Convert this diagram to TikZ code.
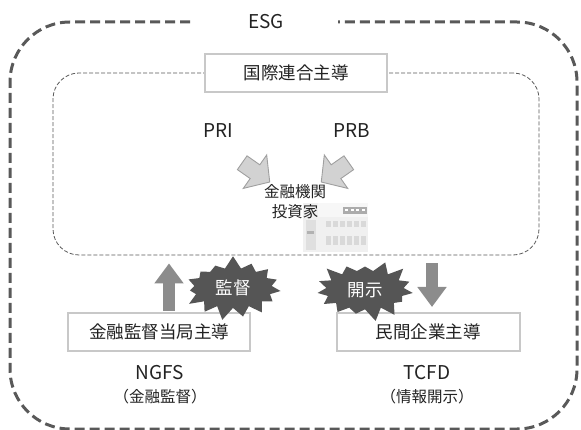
\documentclass[tikz,border=0pt]{standalone}
\usepackage{fontspec}
\setmainfont{Noto Sans CJK JP}
\usepackage{tikz}
\usepackage{xcolor}
\usetikzlibrary{shapes.symbols, arrows.meta, positioning, calc}

\definecolor{framegray}{HTML}{595959}
\definecolor{boxgray}{HTML}{C8C8C8}
\definecolor{burstgray}{HTML}{555555}
\definecolor{arrowgray}{HTML}{8C8C8C}
\definecolor{inkgray}{HTML}{222222}

\tikzset{
  leadbox/.style={draw=boxgray, line width=2pt, fill=white, minimum width=182pt, minimum height=38pt, font=\fontsize{17.5}{17.5}\selectfont, text=inkgray},
  innerframe/.style={draw=framegray, dash pattern=on 4pt off 2pt, line width=0.8pt, rounded corners=26pt},
  outerframe/.style={draw=framegray, dash pattern=on 10pt off 5pt, line width=3pt, rounded corners=60pt},
  label/.style={font=\fontsize{19}{19}\selectfont, text=inkgray},
  sublabel/.style={font=\fontsize{15.5}{15.5}\selectfont, text=inkgray},
  fatarrow/.style={draw=gray!75, fill=gray!35, line width=0.9pt, line join=miter},
  blockarrow/.style={draw=arrowgray, line width=12pt, -{Triangle[length=20pt, width=28pt]}},
  burst/.style={starburst, fill=burstgray, text=white, starburst points=15, starburst point height=13pt, font=\fontsize{17.5}{17.5}\selectfont, inner xsep=10pt, inner ysep=6pt},
}

\begin{document}
\begin{tikzpicture}[x=1pt, y=-1pt]
\useasboundingbox (0,0) rectangle (581,430);

% outer ESG frame, open at the top for the title
\node[label] (esg) at (266,22) {ESG};
\draw[outerframe] ([xshift=-76pt]esg.center) -- (10,22) -- (10,429) -- (577,429) -- (577,22) -- ([xshift=72pt]esg.center);

% international frame
\node[innerframe, minimum width=486pt, minimum height=182pt] (intl) at (296,164) {};
\node[leadbox] (unlead) at (296,73) {国際連合主導};

\node[label] (pri) at (218,131) {PRI};
\node[label] (prb) at (352,131) {PRB};
\foreach \name/\x/\ang in {priarrow/254/-35, prbarrow/337/-145}
  \draw[fatarrow, shift={(\x,171)}, rotate=\ang, scale=1.2]
    (-12,-7) -- (1,-7) -- (1,-17) -- (16,0) -- (1,17) -- (1,7) -- (-12,7) -- cycle;

% bank icon with the financial institutions
\begin{scope}
  \fill[gray!12] (303,203) rectangle (368,252);
  \fill[gray!6] (318,203) rectangle (368,217);
  \fill[gray!65] (343,207) rectangle (367,214);
  \foreach \i in {0,...,3}
    \fill[white] (345+\i*5.5,209.5) rectangle (348+\i*5.5,211.5);
  \foreach \i in {0,...,5} {
    \fill[gray!30] (326+\i*7,221) rectangle (331+\i*7,227);
    \fill[gray!30] (326+\i*7,236) rectangle (331+\i*7,245);
  }
  \fill[gray!25] (306,220) rectangle (316,250);
  \fill[gray!60] (307,231) rectangle (314,234);
\end{scope}
\node[sublabel] (fin) at (295,192) {金融機関};
\node[sublabel] (inv) at (295,212) {投資家};

% the two driving sides below
\node[leadbox] (fsalead) at (159,332) {金融監督当局主導};
\node[leadbox, minimum width=183pt] (corplead) at (428,332) {民間企業主導};

\draw[blockarrow, shorten <=1pt, shorten >=8pt] ([xshift=10pt]fsalead.north) -- ([xshift=10pt]fsalead.north |- intl.south);
\draw[blockarrow, shorten <=8pt, shorten >=5pt] ([xshift=4pt]corplead.north |- intl.south) -- ([xshift=4pt]corplead.north);

\node[burst, random starburst=7] (supervise) at (233,288) {監督};
\node[burst, random starburst=3] (disclose) at (365,290) {開示};

\node[label] (ngfs) at (160,373) {NGFS};
\node[sublabel] (ngfssub) at (160,397) {（金融監督）};
\node[label] (tcfd) at (427,373) {TCFD};
\node[sublabel] (tcfdsub) at (427,397) {（情報開示）};
\end{tikzpicture}
\end{document}
